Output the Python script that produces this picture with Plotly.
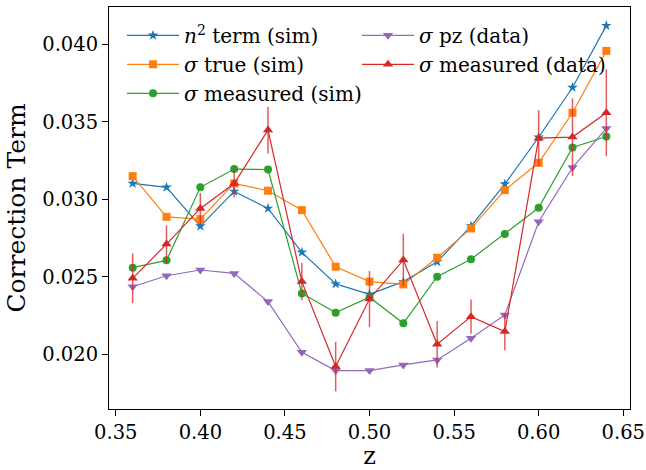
import plotly.graph_objects as go

z = [0.36, 0.38, 0.40, 0.42, 0.44, 0.46, 0.48, 0.50, 0.52, 0.54, 0.56, 0.58, 0.60, 0.62, 0.64]

n2_term_sim = [0.03102, 0.03077, 0.02827, 0.03051, 0.02941, 0.02658, 0.02454, 0.02387,
               0.02469, 0.02597, 0.02827, 0.03098, 0.03400, 0.03721, 0.04120]
sigma_true_sim = [0.03149, 0.02887, 0.02872, 0.03102, 0.03055, 0.02930, 0.02565, 0.02469,
                  0.02451, 0.02623, 0.02812, 0.03059, 0.03235, 0.03558, 0.03957]
sigma_meas_sim = [0.02559, 0.02606, 0.03077, 0.03195, 0.03192, 0.02393, 0.02269, 0.02368,
                  0.02200, 0.02501, 0.02613, 0.02776, 0.02945, 0.03334, 0.03405]
sigma_pz_data = [0.02436, 0.02507, 0.02544, 0.02522, 0.02340, 0.02013, 0.01895, 0.01895,
                 0.01932, 0.01964, 0.02104, 0.02254, 0.02855, 0.03205, 0.03457]
sigma_meas_data = [0.02490, 0.02711, 0.02941, 0.03102, 0.03446, 0.02469, 0.01921, 0.02357,
                   0.02608, 0.02065, 0.02243, 0.02147, 0.03394, 0.03401, 0.03558]
sigma_meas_data_err = [0.0016, 0.0012, 0.0010, 0.0009, 0.0015, 0.0012, 0.0016, 0.0018,
                       0.0017, 0.0015, 0.0011, 0.0012, 0.0018, 0.0025, 0.0028]

names = ["<i>n</i><sup>2</sup> term (sim)", "<i>σ</i> true (sim)", "<i>σ</i> measured (sim)",
         "<i>σ</i> pz (data)", "<i>σ</i> measured (data)"]
colors = ["#1f77b4", "#ff7f0e", "#2ca02c", "#9467bd", "#d62728"]
symbols = ["star", "square", "circle", "triangle-down", "triangle-up"]
sizes = [8, 8, 8, 9, 9]
legend_ids = ["legend", "legend", "legend", "legend2", "legend2"]
series = [n2_term_sim, sigma_true_sim, sigma_meas_sim, sigma_pz_data, sigma_meas_data]

fig = go.Figure()
for i, ys in enumerate(series):
    kw = {}
    if i == 4:
        kw["error_y"] = dict(type="data", array=sigma_meas_data_err, visible=True,
                             color="rgba(214,39,40,0.75)", thickness=1.5, width=0)
    fig.add_trace(go.Scatter(
        x=z, y=ys, mode="lines+markers", name=names[i],
        line=dict(color=colors[i], width=1.2),
        marker=dict(symbol=symbols[i], size=sizes[i], color=colors[i], line=dict(width=0)),
        legend=legend_ids[i], **kw))

font_family = "DejaVu Serif"
axis_common = dict(showline=True, linecolor="black", linewidth=1, mirror=True,
                   ticks="outside", ticklen=6, tickcolor="black", tickwidth=1,
                   showgrid=False, zeroline=False, automargin=False,
                   tickfont=dict(family=font_family, size=19.5, color="black"))

legend_common = dict(yanchor="top", xanchor="left", y=0.978, itemwidth=52,
                     bgcolor="rgba(255,255,255,0)", borderwidth=0, tracegroupgap=0,
                     font=dict(family=font_family, size=20, color="black"),
                     traceorder="normal")

fig.update_layout(
    template="none",
    width=646, height=470,
    margin=dict(l=109, r=16, t=7, b=61),
    paper_bgcolor="white", plot_bgcolor="white",
    font=dict(family=font_family, color="black"),
    showlegend=True,
    legend=dict(x=0.025, **legend_common),
    legend2=dict(x=0.476, **legend_common),
    xaxis=dict(range=[0.346, 0.654], dtick=0.05, tick0=0, tickformat=".2f",
               title=dict(text="z", font=dict(family=font_family, size=24), standoff=2),
               **axis_common),
    yaxis=dict(range=[0.016475, 0.0424], dtick=0.005, tick0=0, tickformat=".3f",
               title=dict(text="Correction Term", font=dict(family=font_family, size=25), standoff=9),
               **axis_common),
)

fig.write_html("out.html", config={"displayModeBar": False},
               post_script="document.body.style.margin='0';")
